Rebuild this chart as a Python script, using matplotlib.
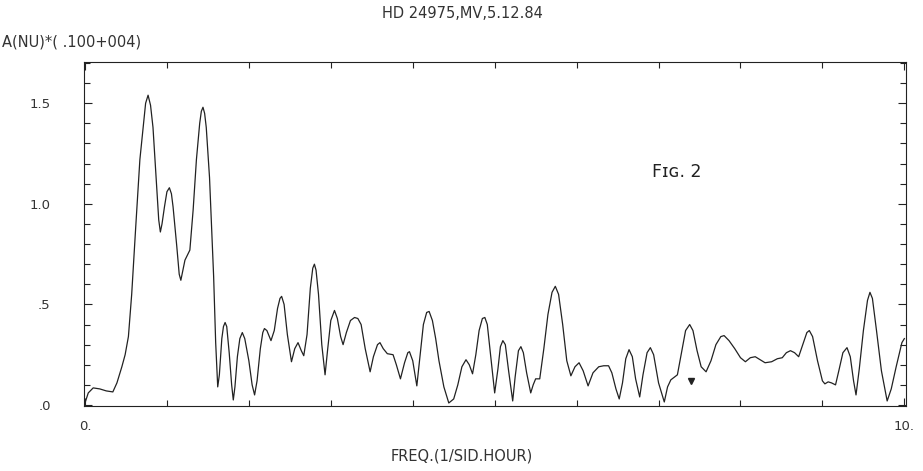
import matplotlib
matplotlib.use("Agg")
import matplotlib.pyplot as plt
from matplotlib.ticker import MultipleLocator, FixedLocator, FixedFormatter

freq = [0.00, 0.04, 0.10, 0.18, 0.26, 0.34, 0.39, 0.45, 0.49, 0.53, 0.57, 0.62, 0.67, 0.71,
        0.74, 0.77, 0.80, 0.83, 0.88, 0.90, 0.92, 0.94, 0.97, 1.00, 1.03, 1.055, 1.075, 1.12,
        1.15, 1.17, 1.19, 1.22, 1.28, 1.32, 1.36, 1.40, 1.42, 1.44, 1.46, 1.48, 1.52, 1.57,
        1.595, 1.62, 1.64, 1.67, 1.69, 1.71, 1.73, 1.76, 1.79, 1.81, 1.83, 1.86, 1.89, 1.92,
        1.95, 2.00, 2.04, 2.07, 2.10, 2.14, 2.17, 2.19, 2.22, 2.27, 2.31, 2.35, 2.38, 2.40,
        2.43, 2.47, 2.52, 2.56, 2.60, 2.64, 2.67, 2.71, 2.75, 2.78, 2.80, 2.82, 2.85, 2.89,
        2.93, 2.96, 3.00, 3.045, 3.08, 3.12, 3.15, 3.19, 3.24, 3.29, 3.33, 3.37, 3.42, 3.48,
        3.52, 3.57, 3.60, 3.64, 3.69, 3.76, 3.80, 3.85, 3.90, 3.94, 3.96, 4.00, 4.05, 4.09,
        4.13, 4.17, 4.20, 4.24, 4.28, 4.32, 4.38, 4.44, 4.50, 4.55, 4.60, 4.65, 4.69, 4.73,
        4.77, 4.81, 4.85, 4.88, 4.91, 4.95, 5.00, 5.04, 5.07, 5.10, 5.13, 5.17, 5.22, 5.25,
        5.29, 5.32, 5.35, 5.39, 5.44, 5.47, 5.50, 5.55, 5.60, 5.65, 5.70, 5.74, 5.78, 5.83,
        5.88, 5.93, 5.98, 6.03, 6.08, 6.14, 6.20, 6.27, 6.33, 6.39, 6.43, 6.48, 6.52, 6.56,
        6.60, 6.64, 6.68, 6.72, 6.77, 6.81, 6.86, 6.90, 6.94, 7.00, 7.07, 7.11, 7.15, 7.23,
        7.28, 7.33, 7.38, 7.42, 7.47, 7.52, 7.58, 7.64, 7.70, 7.76, 7.80, 7.86, 7.93, 8.00,
        8.06, 8.12, 8.18, 8.24, 8.30, 8.38, 8.45, 8.51, 8.56, 8.61, 8.66, 8.71, 8.76, 8.81,
        8.84, 8.88, 8.94, 9.00, 9.03, 9.07, 9.11, 9.16, 9.20, 9.25, 9.30, 9.34, 9.38, 9.41,
        9.45, 9.50, 9.55, 9.58, 9.61, 9.66, 9.72, 9.79, 9.84, 9.90, 9.97, 10.00]
amp = [0.01, 0.06, 0.085, 0.08, 0.07, 0.065, 0.11, 0.19, 0.25, 0.34, 0.55, 0.89, 1.22, 1.38,
       1.50, 1.54, 1.49, 1.38, 1.05, 0.92, 0.86, 0.90, 0.985, 1.06, 1.08, 1.05, 0.985, 0.79,
       0.65, 0.62, 0.66, 0.72, 0.77, 0.97, 1.22, 1.40, 1.46, 1.48, 1.45, 1.38, 1.13, 0.64,
       0.31, 0.09, 0.15, 0.33, 0.39, 0.41, 0.39, 0.26, 0.10, 0.025, 0.09, 0.24, 0.33, 0.36,
       0.33, 0.22, 0.10, 0.05, 0.12, 0.28, 0.36, 0.38, 0.37, 0.32, 0.37, 0.48, 0.53, 0.54,
       0.50, 0.35, 0.215, 0.28, 0.31, 0.27, 0.245, 0.35, 0.58, 0.68, 0.70, 0.67, 0.55, 0.30,
       0.15, 0.27, 0.42, 0.47, 0.43, 0.34, 0.30, 0.36, 0.42, 0.435, 0.43, 0.40, 0.28, 0.165,
       0.24, 0.30, 0.31, 0.28, 0.255, 0.25, 0.20, 0.13, 0.21, 0.26, 0.265, 0.22, 0.095, 0.25,
       0.40, 0.46, 0.465, 0.42, 0.33, 0.22, 0.09, 0.01, 0.03, 0.10, 0.19, 0.225, 0.20, 0.155,
       0.25, 0.37, 0.43, 0.435, 0.40, 0.25, 0.06, 0.18, 0.29, 0.32, 0.30, 0.17, 0.02, 0.14,
       0.27, 0.29, 0.26, 0.16, 0.06, 0.10, 0.13, 0.13, 0.28, 0.45, 0.56, 0.59, 0.55, 0.40,
       0.22, 0.145, 0.19, 0.21, 0.17, 0.095, 0.16, 0.19, 0.195, 0.195, 0.16, 0.08, 0.03, 0.11,
       0.23, 0.275, 0.24, 0.13, 0.04, 0.15, 0.26, 0.285, 0.25, 0.11, 0.015, 0.09, 0.125, 0.15,
       0.26, 0.37, 0.40, 0.37, 0.27, 0.19, 0.165, 0.22, 0.30, 0.34, 0.345, 0.32, 0.28, 0.235,
       0.215, 0.235, 0.24, 0.225, 0.21, 0.215, 0.23, 0.235, 0.26, 0.27, 0.26, 0.24, 0.30, 0.36,
       0.37, 0.34, 0.22, 0.12, 0.105, 0.115, 0.11, 0.10, 0.17, 0.26, 0.285, 0.24, 0.12, 0.05,
       0.18, 0.37, 0.52, 0.56, 0.53, 0.37, 0.17, 0.02, 0.08, 0.19, 0.31, 0.33]

blob_freq = [7.40]
blob_amp = [0.12]

title = "HD 24975,MV,5.12.84"
ylabel = "A(NU)*( .100+004)"
xlabel = "FREQ.(1/SID.HOUR)"
fig_label = "F\u026a\u0262. 2"
ytick_vals = [0.0, 0.5, 1.0, 1.5]
ytick_labels = [".0", ".5", "1.0", "1.5"]
xtick_vals = [0.0, 10.0]
xtick_labels = ["0.", "10."]

plt.rcParams['font.family'] = ['DejaVu Sans']
fig = plt.figure(figsize=(9.23, 4.71), dpi=100)
ax = fig.add_axes([84/923, 1-406/471, (906-84)/923, (406-62)/471])
ink = "#222222"
ax.plot(freq, amp, color=ink, lw=0.9)
ax.plot(blob_freq, blob_amp, marker='v', color=ink, ms=4, ls='none')

ax.set_xlim(-0.012, 10.02)
ax.set_ylim(-0.005, 1.705)

ax.yaxis.set_major_locator(FixedLocator(ytick_vals))
ax.yaxis.set_major_formatter(FixedFormatter(ytick_labels))
ax.yaxis.set_minor_locator(MultipleLocator(0.1))
ax.xaxis.set_major_locator(FixedLocator(xtick_vals))
ax.xaxis.set_major_formatter(FixedFormatter(xtick_labels))
ax.xaxis.set_minor_locator(MultipleLocator(1.0))
ax.tick_params(which='both', direction='in', top=True, right=True, color=ink,
               labelcolor="#333333", labelsize=9.5)
ax.tick_params(which='major', length=6, width=0.8)
ax.tick_params(which='minor', length=4, width=0.8)
ax.tick_params(axis='x', which='major', pad=10)
ax.tick_params(axis='y', which='major', pad=24)
for lbl in ax.get_xticklabels():
    lbl.set_x(lbl.get_position()[0])
for s in ax.spines.values():
    s.set_color(ink)
    s.set_linewidth(0.8)

fig.text(462/923, 1-13/471, title, ha='center', va='center', fontsize=10.5, color="#333333")
fig.text(2/923, 1-42/471, ylabel, ha='left', va='center', fontsize=10.5, color="#333333")
fig.text(462/923, 1-456/471, xlabel, ha='center', va='center', fontsize=10.5, color="#333333")
fig.text(652/923, 1-172/471, fig_label, ha='left', va='center', fontsize=12.5, color="#222222")

fig.savefig("out.png", dpi=100, facecolor='white')
